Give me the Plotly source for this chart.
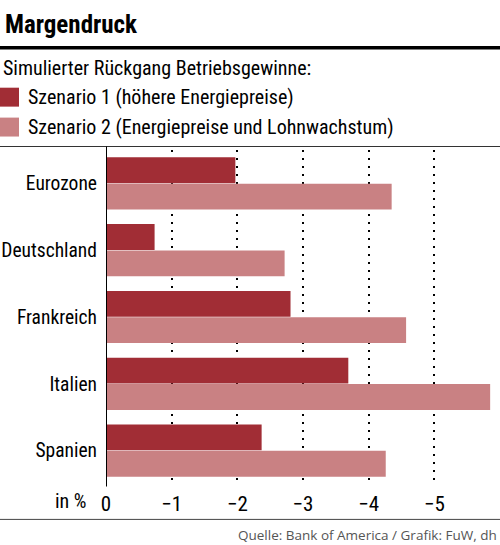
import plotly.graph_objects as go

countries = ['Eurozone', 'Deutschland', 'Frankreich', 'Italien', 'Spanien']
szenario_1 = [-1.97, -0.74, -2.81, -3.69, -2.37]
szenario_2 = [-4.35, -2.72, -4.57, -5.85, -4.26]
x_ticks = [0, -1, -2, -3, -4, -5]

name_1 = 'Szenario 1 (höhere Energiepreise)'
name_2 = 'Szenario 2 (Energiepreise und Lohnwachstum)'

color_1 = '#A12D35'
color_2 = '#C98183'
narrow = 'Roboto Condensed, Liberation Sans Narrow, sans-serif'

# plot area in pixels, used to place the header/footer items in paper coords
W, H = 500, 545
left, right, top, bottom = 106, 500, 149.5, 484.5
pw, ph = right - left, bottom - top


def px(x):
    return (x - left) / pw


def py(y):
    return (bottom - y) / ph


fig = go.Figure()
fig.add_trace(go.Bar(name=name_1, y=countries, x=szenario_1, orientation='h',
                     marker=dict(color=color_1, line=dict(width=0))))
fig.add_trace(go.Bar(name=name_2, y=countries, x=szenario_2, orientation='h',
                     marker=dict(color=color_2, line=dict(width=0))))

shapes = [
    # thick rule under the title
    dict(type='line', xref='paper', yref='paper', x0=px(0), x1=px(W),
         y0=py(47), y1=py(47), line=dict(color='black', width=3.5)),
    # thin rule above the plot
    dict(type='line', xref='paper', yref='paper', x0=px(0), x1=px(W),
         y0=py(146), y1=py(146), line=dict(color='#333333', width=1)),
    # zero axis
    dict(type='line', xref='x', yref='paper', x0=0, x1=0,
         y0=py(487), y1=py(146), line=dict(color='black', width=2)),
    # bottom rule
    dict(type='line', xref='paper', yref='paper', x0=px(0), x1=px(W),
         y0=py(520), y1=py(520), line=dict(color='#444444', width=1)),
    # legend squares
    dict(type='rect', xref='paper', yref='paper', x0=px(0), x1=px(19),
         y0=py(106), y1=py(87), fillcolor=color_1, line=dict(width=0)),
    dict(type='rect', xref='paper', yref='paper', x0=px(0), x1=px(19),
         y0=py(136), y1=py(117), fillcolor=color_2, line=dict(width=0)),
]

annotations = [
    dict(text='<b>Margendruck</b>', x=px(3), y=py(24), font=dict(size=25, family=narrow, color='black')),
    dict(text='Simulierter Rückgang Betriebsgewinne:', x=px(1), y=py(67),
         font=dict(size=20, family=narrow, color='black')),
    dict(text=name_1, x=px(26), y=py(96), font=dict(size=20, family=narrow, color='black')),
    dict(text=name_2, x=px(26), y=py(126), font=dict(size=20, family=narrow, color='black')),
    dict(text='in %', x=px(89), y=py(502), xanchor='right',
         font=dict(size=20, family=narrow, color='black')),
    dict(text='Quelle: Bank of America / Grafik: FuW, dh', x=px(499), y=py(536), xanchor='right',
         font=dict(size=13.5, family='Open Sans, DejaVu Sans, sans-serif', color='#555555')),
]
for a in annotations:
    a.update(xref='paper', yref='paper', showarrow=False)
    a.setdefault('xanchor', 'left')
    a['yanchor'] = 'middle'

fig.update_layout(
    width=W, height=H,
    margin=dict(l=left, r=W - right, t=top, b=H - bottom, autoexpand=False),
    paper_bgcolor='white', plot_bgcolor='white',
    barmode='group', bargap=0.21, bargroupgap=0.02,
    showlegend=False,
    shapes=shapes,
    annotations=annotations,
    xaxis=dict(range=[0, -6], tickvals=x_ticks, showgrid=True, gridcolor='black',
               gridwidth=1.6, griddash='1.6px,6.4px', zeroline=False, showline=False,
               ticks='', ticklabelstandoff=5, automargin=False,
               tickfont=dict(size=21, family=narrow, color='black')),
    yaxis=dict(categoryorder='array', categoryarray=countries, autorange='reversed',
               showgrid=False, zeroline=False, showline=False, ticks='',
               ticklabelstandoff=8, automargin=False,
               tickfont=dict(size=19.5, family=narrow, color='black')),
)

# drop the default page margin so the figure sits at the window corner
fig.write_html('out.html', config={'displayModeBar': False},
               post_script="document.body.style.margin = '0';")
